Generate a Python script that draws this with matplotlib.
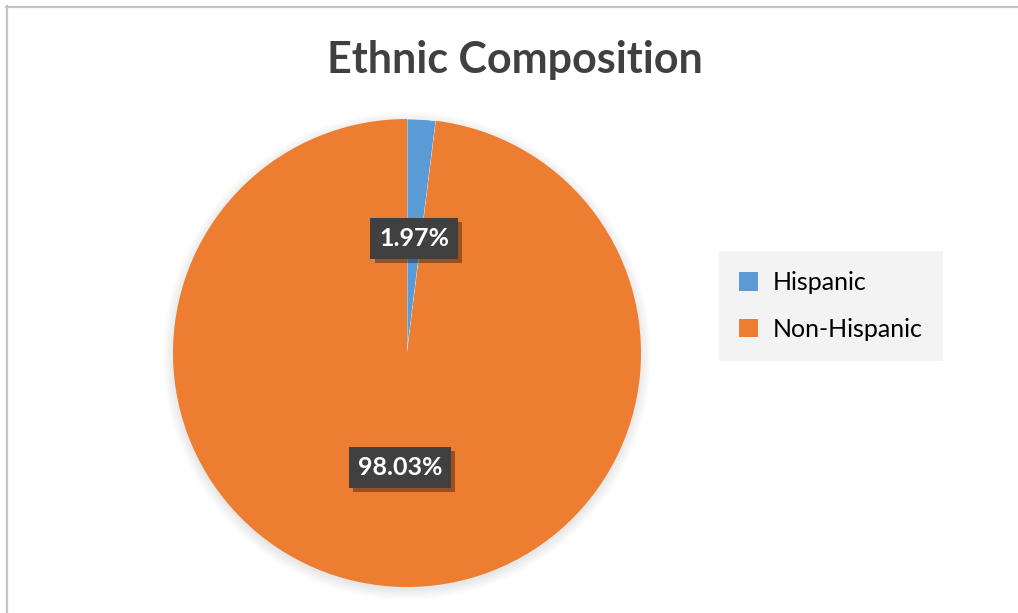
import matplotlib
matplotlib.use("Agg")
import matplotlib.pyplot as plt
import matplotlib.patheffects as pe
from matplotlib.lines import Line2D
from matplotlib.patches import Circle

groups = ["Hispanic", "Non-Hispanic"]
shares = [1.97, 98.03]
colors = ["#5b9bd5", "#ed7d31"]

W, H = 1018, 613
fig = plt.figure(figsize=(W / 100, H / 100), dpi=100)
fig.patch.set_facecolor("white")

# thin grey frame along top and left
fig.add_artist(Line2D([6 / W, 1], [1 - 6.5 / H, 1 - 6.5 / H], color="#c4c4c4", lw=1.6))
fig.add_artist(Line2D([6.5 / W, 6.5 / W], [0, 1 - 6 / H], color="#c4c4c4", lw=1.6))

fig.text(515 / W, 1 - 60 / H, "Ethnic Composition", ha="center", va="center",
         fontsize=31, fontweight="bold", color="#404040", family="Lato")

# pie axes
cx, cy, r = 407, 353, 234
ax = fig.add_axes([(cx - r) / W, (H - cy - r) / H, 2 * r / W, 2 * r / H])

# soft shadow under the pie
for k in range(8):
    ax.add_patch(Circle((0.0, -0.012), 1.0 + 0.006 * k, color="black",
                        alpha=0.012, lw=0, zorder=0, clip_on=False))

wedges, texts, autotexts = ax.pie(
    shares, colors=colors, startangle=90, counterclock=False, radius=1.0,
    autopct=lambda p: f"{p:.2f}%", pctdistance=0.49,
    wedgeprops=dict(edgecolor="none", linewidth=0),
    textprops=dict(color="white", fontsize=18, fontweight="bold", family="Lato"),
)
ax.set_xlim(-1, 1)
ax.set_ylim(-1, 1)
ax.set_aspect("equal")
ax.axis("off")

# thin white seam on the clockwise edge of the small slice
wedges[0].set_edgecolor("white")
wedges[0].set_linewidth(0.5)

for w in wedges:
    w.set_zorder(2)
for t in autotexts:
    t.set_zorder(5)
    t.set_bbox(dict(boxstyle="square,pad=0.35", facecolor="#404040", edgecolor="none"))
    t.get_bbox_patch().set_path_effects(
        [pe.SimplePatchShadow(offset=(3, -3), shadow_rgbFace="black", alpha=0.35), pe.Normal()])

leg = fig.legend(wedges, groups, loc="center left",
                 bbox_to_anchor=(719 / W, 1 - 306 / H),
                 frameon=True, fancybox=False, facecolor="#f0f0f0", edgecolor="#f0f0f0",
                 prop=dict(family="Lato", size=18), handlelength=0.75, handleheight=0.75,
                 handletextpad=0.6, labelspacing=0.95, borderpad=0.8, borderaxespad=0)
leg.get_frame().set_linewidth(0)
for h in leg.legend_handles:
    h.set_edgecolor("none")
    h.set_linewidth(0)

fig.savefig("out.png", dpi=100)
